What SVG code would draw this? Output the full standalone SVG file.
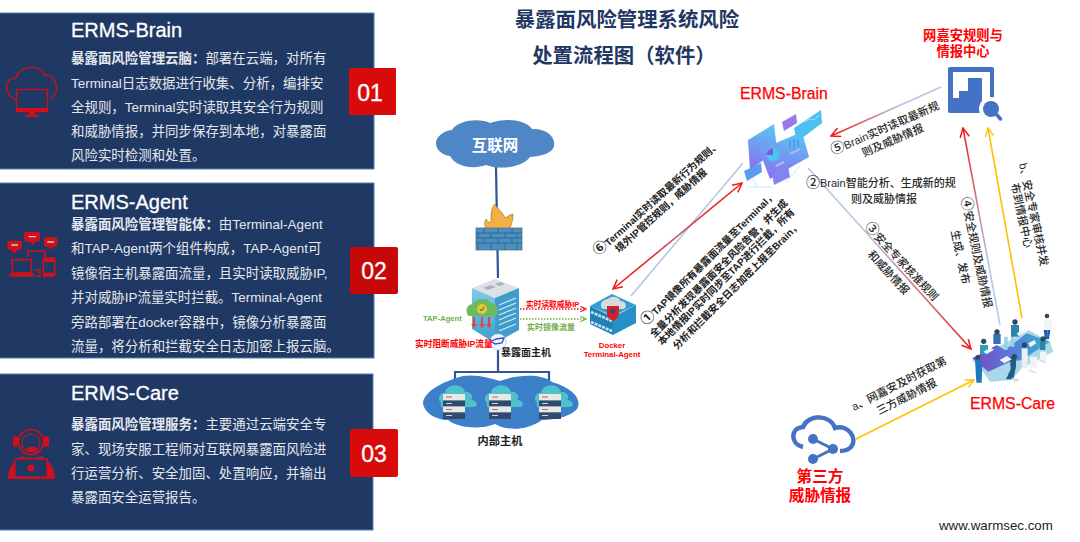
<svg xmlns="http://www.w3.org/2000/svg" width="1080" height="542" viewBox="0 0 1080 542">
<style>
text{font-family:"Liberation Sans","Noto Sans CJK SC",sans-serif}
.panel{fill:#203864;stroke:#5b7db5;stroke-width:1}
.badge{fill:#d90a0a}
.bt{fill:#fff;font-size:23px;text-anchor:middle;stroke:#fff;stroke-width:.3}
.tt{fill:#fff;font-size:20px;stroke:#fff;stroke-width:.3}
.body{fill:#e4e8ee;font-size:13.45px}
.hd{fill:#1f3864;font-size:20.4px;font-weight:700;text-anchor:middle}
.red{fill:#f00;font-weight:700}
.rn{fill:#f00;font-size:15.8px;stroke:#f00;stroke-width:.25}
.ic{fill:none;stroke:#c8101a;stroke-width:1.4}
.icf{fill:#d0101a}
.lb{fill:#2a2a2a;font-size:11px;font-weight:500}
.ls{fill:#222;font-size:10px;font-weight:700}
.cd{font-size:14px}
.conn{fill:none;stroke-width:1.6}
.net{fill:none;stroke:#2f5597;stroke-width:2.2}
</style>
<defs>
<marker id="ar2" viewBox="0 0 12 12" refX="11" refY="6" markerWidth="11" markerHeight="11" markerUnits="userSpaceOnUse" orient="auto-start-reverse"><path d="M1 1L11 6L1 11" fill="none" stroke="#f01c1c" stroke-width="1.7"/></marker>
<marker id="ay" viewBox="0 0 12 12" refX="11" refY="6" markerWidth="10" markerHeight="10" markerUnits="userSpaceOnUse" orient="auto"><path d="M1 1L11 6L1 11" fill="none" stroke="#ffc000" stroke-width="1.6"/></marker>
<marker id="dr" viewBox="0 0 10 10" refX="9" refY="5" markerWidth="7" markerHeight="7" markerUnits="userSpaceOnUse" orient="auto-start-reverse"><path d="M1 1L9 5L1 9" fill="none" stroke="#e81c1c" stroke-width="1.6"/></marker>
<marker id="dg" viewBox="0 0 10 10" refX="9" refY="5" markerWidth="7" markerHeight="7" markerUnits="userSpaceOnUse" orient="auto"><path d="M1 1L9 5L1 9" fill="none" stroke="#70ad47" stroke-width="1.6"/></marker>
<linearGradient id="g5" gradientUnits="userSpaceOnUse" x1="941" y1="87" x2="831" y2="136"><stop offset="0" stop-color="#b4c7e7"/><stop offset=".35" stop-color="#b4c7e7"/><stop offset="1" stop-color="#f01c1c"/></linearGradient>
<linearGradient id="g3" gradientUnits="userSpaceOnUse" x1="808" y1="168" x2="971" y2="349"><stop offset="0" stop-color="#b4c7e7"/><stop offset=".35" stop-color="#b4c7e7"/><stop offset="1" stop-color="#f01c1c"/></linearGradient>
<linearGradient id="g4" gradientUnits="userSpaceOnUse" x1="1000" y1="325" x2="963" y2="128"><stop offset="0" stop-color="#b4c7e7"/><stop offset=".3" stop-color="#b4c7e7"/><stop offset="1" stop-color="#f01c1c"/></linearGradient>
<linearGradient id="g1" gradientUnits="userSpaceOnUse" x1="613" y1="289" x2="742" y2="183"><stop offset="0" stop-color="#f01c1c"/><stop offset=".25" stop-color="#f01c1c"/><stop offset=".5" stop-color="#c25a78"/><stop offset=".75" stop-color="#f01c1c"/><stop offset="1" stop-color="#f01c1c"/></linearGradient>
<linearGradient id="gb" x1="0.6" y1="0" x2="0.4" y2="1"><stop offset="0" stop-color="#58c4f4"/><stop offset="1" stop-color="#8a72ee"/></linearGradient>
<linearGradient id="gs" x1="0" y1="0" x2="0" y2="1"><stop offset="0" stop-color="#7fcbe8"/><stop offset="1" stop-color="#3f9fcc"/></linearGradient>
<linearGradient id="gt" x1="0" y1="0" x2="1" y2="0"><stop offset="0" stop-color="#7a48c8"/><stop offset=".5" stop-color="#5a7ad8"/><stop offset="1" stop-color="#2fb8cc"/></linearGradient>
<g id="rack"><path d="M-13 -3C-18 -8 -13 -14 -9 -13C-8 -22 8 -24 11 -14C17 -15 20 -9 17 -6C23 -6 25 0 20 1H-13Z" fill="#4fc1c9"/><rect x="-11" y="-12" width="22" height="6.500" fill="#e8e8e8"/><rect x="-11" y="-5.500" width="22" height="6" fill="#34496e"/><rect x="-11" y="0.500" width="22" height="6" fill="#e8e8e8"/><rect x="-11" y="6.500" width="22" height="6.500" fill="#34496e"/><path d="M-8 -9h6M-8 3.500h6" stroke="#e05a5a" stroke-width="1" fill="none"/><path d="M-8 -2.500h6M-8 9.500h6" stroke="#cdd5e0" stroke-width="1" fill="none"/></g>
</defs>

<g id="panel-brain">
<rect class="panel" x="-2" y="13" width="376" height="156"/>
<text class="tt" x="71" y="37">ERMS-Brain</text>
<text class="body" x="71" y="63"><tspan font-weight="700">暴露面风险管理云脑：</tspan>部署在云端，对所有</text>
<text class="body" x="71" y="88">Terminal日志数据进行收集、分析，编排安</text>
<text class="body" x="71" y="112">全规则，Terminal实时读取其安全行为规则</text>
<text class="body" x="71" y="136">和威胁情报，并同步保存到本地，对暴露面</text>
<text class="body" x="71" y="160">风险实时检测和处置。</text>
<g>
<path class="ic" d="M16 100C3 94 4 78 16 78C18 66 40 63 44 75C56 74 61 90 51 99"/>
<rect class="ic" x="16.500" y="89.500" width="31" height="22"/>
<rect class="icf" x="16" y="108" width="32" height="4"/>
<path class="icf" d="M29 112h6v3h4v2h-14v-2h4z"/>
</g>
</g>
<g id="badge-01"><rect class="badge" x="349" y="68" width="47" height="47" rx="1"/><text class="bt" x="370" y="101">01</text></g>

<g id="panel-agent">
<rect class="panel" x="-2" y="183" width="376" height="175"/>
<text class="tt" x="71" y="209">ERMS-Agent</text>
<text class="body" x="71" y="229"><tspan font-weight="700">暴露面风险管理智能体：</tspan>由Terminal-Agent</text>
<text class="body" x="71" y="253">和TAP-Agent两个组件构成，TAP-Agent可</text>
<text class="body" x="71" y="278">镜像宿主机暴露面流量，且实时读取威胁IP,</text>
<text class="body" x="71" y="302">并对威胁IP流量实时拦截。Terminal-Agent</text>
<text class="body" x="71" y="327">旁路部署在docker容器中，镜像分析暴露面</text>
<text class="body" x="71" y="351">流量，将分析和拦截安全日志加密上报云脑。</text>
<g transform="translate(0 225) scale(.3333)">
<path class="icf" d="M32 47h24q10 0 10 10v8q0 10-10 10h-4l-9 13-9-13h-2q-10 0-10-10v-8q0-10 10-10Z"/>
<path class="icf" d="M80 20h32q8 0 8 8v14q0 8-8 8h-7l-8 10-8-10h-9q-8 0-8-8v-14q0-8 8-8Z"/>
<path class="icf" d="M140 37h24q8 0 8 8v12q0 8-8 8h-5l-7 10-7-10h-5q-8 0-8-8v-12q0-8 8-8Z"/>
<path d="M34 60h20M86 35h22M142 51h20" stroke="#c9ccd6" stroke-width="4" fill="none"/>
<path d="M84 95V78H135V95" fill="none" stroke="#d0101a" stroke-width="4.500"/>
<rect x="37" y="104" width="57" height="40" fill="none" stroke="#d0101a" stroke-width="5"/>
<path class="icf" d="M28 145H102V150Q102 155 97 155H33Q28 155 28 150Z"/>
<path d="M106 136H120V154H108" fill="none" stroke="#d0101a" stroke-width="4.500"/>
<rect x="130" y="99" width="34" height="55" rx="3" fill="none" stroke="#d0101a" stroke-width="4.500"/>
<rect class="icf" x="130" y="99" width="34" height="12"/>
<rect class="icf" x="130" y="143" width="34" height="11"/>
</g>
</g>
<g id="badge-02"><rect class="badge" x="350" y="247" width="48" height="47" rx="2" style="fill:#c60808"/><text class="bt" x="374" y="279">02</text></g>

<g id="panel-care">
<rect class="panel" x="-2" y="374" width="375" height="156"/>
<text class="tt" x="71" y="400">ERMS-Care</text>
<text class="body" x="71" y="429"><tspan font-weight="700">暴露面风险管理服务：</tspan>主要通过云端安全专</text>
<text class="body" x="71" y="454">家、现场安服工程师对互联网暴露面风险进</text>
<text class="body" x="71" y="478">行运营分析、安全加固、处置响应，并输出</text>
<text class="body" x="71" y="502">暴露面安全运营报告。</text>
<g>
<circle cx="31" cy="442" r="12.500" fill="none" stroke="#d0101a" stroke-width="1.600"/>
<circle cx="31" cy="443" r="9" fill="none" stroke="#d0101a" stroke-width="1.200"/>
<rect class="icf" x="13" y="436" width="5" height="11" rx="2.500"/>
<rect class="icf" x="44" y="436" width="5" height="11" rx="2.500"/>
<rect class="icf" x="27" y="447" width="10" height="5" rx="2.500"/>
<path class="icf" d="M8 478C8 468 14 460 22 456C27 459 36 459 41 456C49 460 55 468 55 478Q55 479 53 479H10Q8 479 8 478Z"/>
<rect x="15" y="459" width="32" height="18" fill="#203864" stroke="#d0101a" stroke-width="1.200"/>
<circle class="icf" cx="31" cy="468" r="3.500"/>
</g>
</g>
<g id="badge-03"><rect class="badge" x="350" y="429" width="48" height="48" rx="2"/><text class="bt" x="374" y="462">03</text></g>

<g id="title">
<text class="hd" x="627" y="27">暴露面风险管理系统风险</text>
<text class="hd" x="624" y="63">处置流程图（软件）</text>
</g>

<g id="connectors">
<path class="net" d="M496 167L498 278"/>
<path class="net" d="M498 345V371M455 385V372H549V385" stroke-width="2.500"/>
<path class="conn" stroke="url(#g5)" marker-end="url(#ar2)" d="M941 87L831 136"/>
<path class="conn" stroke="url(#g3)" marker-end="url(#ar2)" d="M808 168L971 349"/>
<path class="conn" stroke="url(#g4)" marker-end="url(#ar2)" d="M1000 325L963 128"/>
<path class="conn" stroke="#ffc000" marker-end="url(#ay)" d="M1022 318L988 128"/>
<path class="conn" stroke="#ffc000" marker-end="url(#ay)" d="M856 439L974 380"/>
<path class="conn" stroke="#b4c7e7" d="M631 296L743 163"/>
<path class="conn" stroke="url(#g1)" marker-start="url(#ar2)" marker-end="url(#ar2)" d="M613 289L742 183"/>
<path fill="none" stroke="#e81c1c" stroke-width="1.300" stroke-dasharray="1.500 1.500" marker-start="url(#dr)" marker-end="url(#dr)" d="M496 309H586"/>
<path fill="none" stroke="#70ad47" stroke-width="1.300" stroke-dasharray="1.500 1.500" marker-end="url(#dg)" d="M520 319H586"/>
</g>

<g id="internet">
<path d="M452 130C458 120 480 118 490 123C505 118 525 119 532 129C545 128 555 136 554 144C555 152 543 156 530 157C522 168 498 170 486 165C472 170 455 166 450 156C442 155 436 150 436 143C436 137 443 131 452 130Z" fill="#4f86c6"/>
<text x="495" y="151" fill="#fff" font-size="15.500" font-weight="700" text-anchor="middle">互联网</text>
</g>

<g id="firewall">
<path d="M492 235C485 230 483 224 486 219C488 222 490 223 491 222C491 214 491 208 495 204C497 209 503 212 505 218C507 217 511 214 513 214C513 222 510 232 503 235Z" fill="#f4b042" stroke="#8a6a30" stroke-width=".6"/>
<rect x="476" y="228" width="46" height="22" fill="#4a8fc0" stroke="#5e6f80" stroke-width=".8"/>
<path d="M476 233h46M476 238h46M476 243h46M484 228v5M498 228v5M512 228v5M478 233v5M491 233v5M505 233v5M517 233v5M484 238v5M498 238v5M512 238v5M478 243v7M491 243v7M505 243v7M517 243v7" stroke="#2a5f88" stroke-width=".8" fill="none"/>
</g>

<g id="host">
<path d="M472 288L495 279L519 288L495 298Z" fill="#dde1e6"/>
<path d="M472 288L495 298V343L472 329Z" fill="url(#gs)"/>
<path d="M495 298L519 288V330L495 343Z" fill="#3f9ccb"/>
<path d="M483 288l8-3 5 2-8 3zM495 284l6-2 4 2-6 2z" fill="#aab4bf"/>
<path d="M499 305l17-7M499 310l17-7M499 315l17-7M499 320l17-7M499 325l17-7M499 331l17-7" stroke="#cdeaf6" stroke-width="1.200" fill="none"/>
<path d="M467 313C465 307 470 304 473 304C476 298 488 297 491 303C496 303 499 309 497 313C497 316 495 316 493 316H470C468 316 467 315 467 313Z" fill="#6dbb5c"/>
<circle cx="482" cy="309" r="5" fill="#e6c72f"/>
<path d="M480 309l1.500 2 2.500-4" stroke="#555" fill="none"/>
<path d="M473 317v7h-2l3 4 3-4h-2v-7zM481 317v7h-2l3 4 3-4h-2v-7zM488 317v7h-2l3 4 3-4h-2v-7z" fill="#e8403c"/>
<circle cx="498" cy="342" r="8" fill="#f4f7fd" stroke="#c8d4f0"/>
<path d="M491 341q6-3 13-3l-2 5-7 1z" fill="none" stroke="#2f55c0" stroke-width="1.300"/>
<text x="423" y="321" fill="#70ad47" font-size="7.600" font-weight="700">TAP-Agent</text>
<text x="415" y="347" class="red" font-size="8.700">实时阻断威胁IP流量</text>
<text x="501" y="356" fill="#222" font-size="10" font-weight="700">暴露面主机</text>
<text x="526" y="307" class="red" font-size="7.700">实时读取威胁IP</text>
<text x="527" y="330" fill="#70ad47" font-size="8" font-weight="700">实时镜像流量</text>
</g>

<g id="docker-agent">
<path d="M590 306L612 294L636 305L613 316Z" fill="#2f9fd5"/>
<path d="M590 306L613 317V335L590 324Z" fill="#1e82bb"/>
<path d="M613 317L636 305V323L613 335Z" fill="#2590c8"/>
<path d="M591 312L612 321M591 322L612 331" stroke="#d6e2e8" stroke-width="2.500" stroke-dasharray="3 1"/>
<path d="M601 306C600 301 606 299 608 299C611 295 620 297 620 301C625 300 628 306 624 309H604C602 309 601 308 601 306Z" fill="#dadada"/>
<path d="M607 306h12v8q-1 5-6 7q-5-2-6-7Z" fill="#d4202a"/>
<circle cx="613" cy="311" r="2.500" fill="#34496e"/>
<text x="612" y="348" fill="#f00" font-size="7.800" font-weight="700" text-anchor="middle">Docker</text>
<text x="612" y="357" fill="#f00" font-size="7.800" font-weight="700" text-anchor="middle">Terminal-Agent</text>
</g>

<g id="internal-hosts">
<path d="M456 378C470 372 490 378 500 381C512 376 540 372 552 382C572 388 581 398 578 407C574 416 555 420 542 420C525 432 505 430 495 424C480 430 458 428 448 420C435 420 424 412 423 403C424 393 438 384 456 378Z" fill="#3b80c9"/>
<use href="#rack" x="454" y="406"/>
<use href="#rack" x="500" y="406"/>
<use href="#rack" x="550" y="406"/>
<text x="500" y="445" fill="#222" font-size="11.200" font-weight="700" text-anchor="middle">内部主机</text>
</g>

<g id="erms-brain">
<text x="740" y="99" class="rn">ERMS-Brain</text>
<path d="M749 187L772 187M753 178L757 187M800 166L786 182" stroke="#bcdff2" stroke-width=".8" fill="none"/>
<path d="M748 140L774 124L777 150L750 170Z" fill="url(#gb)"/>
<path d="M759 150L802 132L809 157L770 179Z" fill="url(#gb)"/>
<path d="M794 128L821 110L822 123L797 142Z" fill="#4cc0ee"/>
<path d="M782 122L796 114L797 123L784 131Z" fill="#9a78ea"/>
<path d="M744 171L761 163L762 172L747 181Z" fill="#5a9cee"/>
<path d="M772 174L788 166L790 177L774 185Z" fill="#7f86ee"/>
<circle cx="773" cy="155" r="6.500" fill="#4cc4f2"/>
<path d="M773 155V148.500A6.500 6.500 0 0 0 766.500 155Z" fill="#7a58e0"/>
<path d="M790 141v8M794 139v11M798 140v7" stroke="#4a9ee4" stroke-width="1.800" fill="none"/>
<path d="M776 166l8-4M790 154l10-5" stroke="#b4b4f2" stroke-width="2" fill="none"/>
<path d="M804 122l6-3 4 1 5-5" stroke="#a0e0f8" fill="none"/>
</g>

<g id="rule-center">
<text x="963" y="40" class="red" font-size="13.300" text-anchor="middle">网嘉安规则与</text>
<text x="963" y="56" class="red" font-size="13.300" text-anchor="middle">情报中心</text>
<rect x="948" y="67" width="46" height="46" rx="2" fill="#4472c4"/>
<path d="M953 72H990V104H982V79Q982 78 981 78H968V91H959V98H953Z" fill="#fff"/>
<circle cx="991" cy="109" r="12" fill="#fff"/>
<circle cx="991" cy="109" r="8" fill="#4472c4"/>
<path d="M997 115l3.500 4" stroke="#4472c4" stroke-width="3.500" stroke-linecap="round"/>
</g>

<g id="erms-care">
<g transform="translate(965 310) scale(.3333)">
<path d="M22 150L110 105L190 60L255 95L265 125L170 175L140 210L75 215L50 180Z" fill="#abd8e8"/>
<path d="M22 145L95 105L120 120L185 70L255 95L170 150L135 155L70 185Z" fill="url(#gt)"/>
<path d="M118 80h10v40h-10zM138 75h10v35h-10z" fill="#8ed6e6"/>
<path d="M45 105h24v28h-24z" fill="#2ba0b8"/>
<circle cx="56" cy="94" r="8" fill="#2c4a5e"/>
<path d="M85 72h22v30h-22z" fill="#3570b8"/>
<circle cx="96" cy="66" r="8" fill="#2c4a5e"/>
<path d="M138 45h24v35h-24z" fill="#2a85a8"/>
<circle cx="150" cy="36" r="8" fill="#2c4a5e"/>
<path d="M238 28h22v32h-22z" fill="#f2f5f7"/>
<path d="M236 60h10v28h-6zM247 60h9l-4 28h-6z" fill="#1f5fb0"/>
<circle cx="246" cy="18" r="7" fill="#2c4a5e"/>
<path d="M30 148L44 142L52 165L50 218H34Z" fill="#1f78be"/>
<circle cx="38" cy="142" r="7" fill="#2c4a5e"/>
<path d="M135 140h18v30l-8 38h-22l14-30z" fill="#1f5f8e"/>
<circle cx="148" cy="140" r="8" fill="#2c4a5e"/>
<path d="M170 115h18v60h-18z" fill="#e9f0f4"/>
<circle cx="178" cy="105" r="8" fill="#2c4a5e"/>
<path d="M225 95h16v25h-16z" fill="#2a85a8"/>
<circle cx="234" cy="87" r="8" fill="#2c4a5e"/>
<path d="M55 125l22-12 10 6-22 13zM104 150l22-12 14 10-22 12zM155 70l25-12 6 8-25 12zM190 100l18-10 6 10-18 12z" fill="#eef3f6"/>
<path d="M195 140h22v35h-22zM225 125h20v28h-20z" fill="#eef3f6"/>
<path d="M140 205l22 8M192 180l22 8M222 150l22 8M146 215l12-10" stroke="#d4dce2" stroke-width="5" fill="none"/>
</g>
<text x="970" y="409" class="rn">ERMS-Care</text>
</g>

<g id="third-party">
<path d="M803 447C790 444 790 428 803 427C808 414 830 414 835 428C848 424 858 438 851 447C848 450 845 451 840 451" fill="none" stroke="#4472c4" stroke-width="4.500"/>
<path d="M813 439L833 449L813 459" fill="none" stroke="#4472c4" stroke-width="3"/>
<circle cx="813" cy="439" r="5" fill="#4472c4"/>
<circle cx="833" cy="449" r="5" fill="#4472c4"/>
<circle cx="813" cy="459" r="5" fill="#4472c4"/>
<text x="820" y="482" class="red" font-size="15.600" text-anchor="middle">第三方</text>
<text x="820" y="501" class="red" font-size="15.600" text-anchor="middle">威胁情报</text>
</g>

<g id="connector-labels">
<text class="ls" transform="translate(598 256) rotate(-42)"><tspan class="cd">⑥</tspan>Terminal实时读取最新行为规则、</text>
<text class="ls" transform="translate(619 253) rotate(-42)">境外IP管控规则，威胁情报</text>
<text class="ls" transform="translate(646 326) rotate(-45)"><tspan class="cd">①</tspan>TAP镜像所有暴露面流量至Terminal，</text>
<text class="ls" transform="translate(654 338) rotate(-45)">全量分析发现暴露面安全风险告警，并生成</text>
<text class="ls" transform="translate(662 346) rotate(-45)">本地情报IP实时同步至TAP进行拦截，所有</text>
<text class="ls" transform="translate(677 350) rotate(-45)">分析和拦截安全日志加密上报至Brain，</text>
<text class="lb" transform="translate(833 155) rotate(-23.500)"><tspan class="cd">⑤</tspan>Brain实时读取最新规</text>
<text class="lb" transform="translate(864 157) rotate(-23.500)">则及威胁情报</text>
<text class="lb" x="806" y="187"><tspan class="cd">②</tspan>Brain智能分析、生成新的规</text>
<text class="lb" x="851" y="203">则及威胁情报</text>
<text class="lb" transform="translate(864 227) rotate(47)"><tspan class="cd">③</tspan>安全专家核准规则</text>
<text class="lb" transform="translate(867 255) rotate(47)">和威胁情报</text>
<text class="lb" transform="translate(961 198) rotate(78)"><tspan class="cd">④</tspan>安全规则及威胁情报</text>
<text class="lb" transform="translate(951 231) rotate(78)">生成、发布</text>
<text class="lb" transform="translate(1019 164) rotate(78)">b、安全专家审核并发</text>
<text class="lb" transform="translate(1011 184) rotate(78)">布到情报中心</text>
<text class="lb" transform="translate(854 411) rotate(-27)">a、网嘉安及时获取第</text>
<text class="lb" transform="translate(879 415) rotate(-27)">三方威胁情报</text>
</g>

<text x="939" y="530" fill="#222" font-size="13.300">www.warmsec.com</text>
</svg>
